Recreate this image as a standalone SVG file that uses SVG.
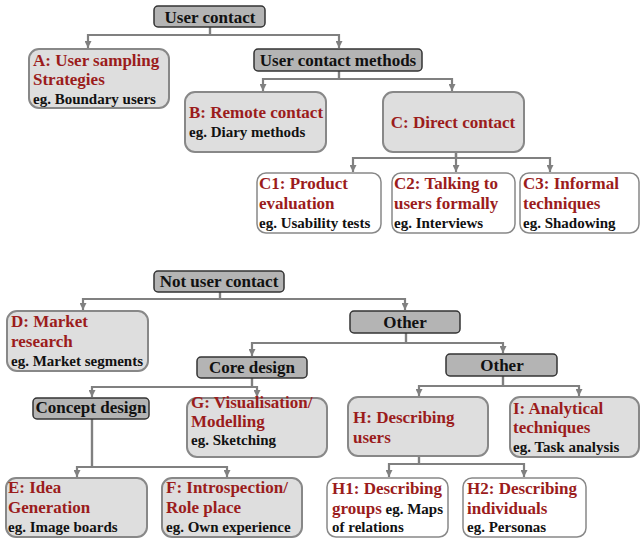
<svg xmlns="http://www.w3.org/2000/svg" width="641" height="540" viewBox="0 0 641 540">
<defs>
<marker id="ah" markerWidth="8" markerHeight="7" refX="7" refY="3.5" orient="auto" markerUnits="userSpaceOnUse">
<path d="M0,0 L7,3.5 L0,7 Z" fill="#808080"/>
</marker>
<style>
.cat rect{fill:#b4b4b4;stroke:#333;stroke-width:1.5}
.cat text{font-family:"Liberation Serif","Times New Roman","DejaVu Serif",serif;font-weight:bold;font-size:17px;fill:#111;text-anchor:middle}
.box rect{fill:#dedede;stroke:#888;stroke-width:2}
.wbox rect{fill:#fff;stroke:#888;stroke-width:1.5}
.t{font-family:"Liberation Serif","Times New Roman","DejaVu Serif",serif;font-weight:bold;font-size:17px;fill:#9b1c1c}
.e{font-family:"Liberation Serif","Times New Roman","DejaVu Serif",serif;font-weight:bold;font-size:15px;fill:#111}
#connectors path{fill:none;stroke:#808080;stroke-width:2.2;marker-end:url(#ah)}
</style>
</defs>
<rect width="641" height="540" fill="#fff"/>
<g id="connectors">
<path d="M210,27 V35 H88 V48"/>
<path d="M210,27 V35 H339 V48"/>
<path d="M339,71 V79 H263 V91"/>
<path d="M339,71 V79 H452 V91"/>
<path d="M456,152 V158 H353 V172"/>
<path d="M456,152 V172"/>
<path d="M456,152 V158 H550 V172"/>
<path d="M220,292 V299 H83 V310"/>
<path d="M220,292 V299 H405 V310"/>
<path d="M406,333 V343 H252 V356"/>
<path d="M406,333 V343 H503 V353"/>
<path d="M252,378 V387 H92 V397"/>
<path d="M252,378 V387 H257 V397"/>
<path d="M92,419 V467 H77 V477"/>
<path d="M92,419 V467 H227 V477"/>
<path d="M503,376 V386 H419 V396"/>
<path d="M503,376 V386 H579 V396"/>
<path d="M419,456 V464 H389 V477"/>
<path d="M419,456 V464 H524 V477"/>
</g>
<g id="user-contact" class="cat"><rect x="154" y="6" width="111" height="21" rx="4"/><text x="210" y="23">User contact</text></g>
<g id="user-contact-methods" class="cat"><rect x="254" y="49" width="168" height="22" rx="4"/><text x="338" y="66">User contact methods</text></g>
<g id="node-a" class="box"><rect x="29" y="49" width="140" height="59" rx="10"/>
<text class="t" x="33" y="66">A: User sampling</text><text class="t" x="33" y="85">Strategies</text><text class="e" x="33" y="104">eg. Boundary users</text></g>
<g id="node-b" class="box"><rect x="185" y="92" width="141" height="60" rx="10"/>
<text class="t" x="189" y="118">B: Remote contact</text><text class="e" x="189" y="137">eg. Diary methods</text></g>
<g id="node-c" class="box"><rect x="383" y="92" width="141" height="60" rx="10"/>
<text class="t" x="453" y="128" text-anchor="middle">C: Direct contact</text></g>
<g id="node-c1" class="wbox"><rect x="257" y="173" width="124" height="60" rx="9"/>
<text class="t" x="259" y="189">C1: Product</text><text class="t" x="259" y="209">evaluation</text><text class="e" x="259" y="228">eg. Usability tests</text></g>
<g id="node-c2" class="wbox"><rect x="392" y="173" width="123" height="60" rx="9"/>
<text class="t" x="394" y="189">C2: Talking to</text><text class="t" x="394" y="209">users formally</text><text class="e" x="394" y="228">eg. Interviews</text></g>
<g id="node-c3" class="wbox"><rect x="520" y="173" width="119" height="60" rx="9"/>
<text class="t" x="523" y="189">C3: Informal</text><text class="t" x="523" y="209">techniques</text><text class="e" x="523" y="228">eg. Shadowing</text></g>
<g id="not-user-contact" class="cat"><rect x="154" y="271" width="130" height="21" rx="4"/><text x="219" y="287">Not user contact</text></g>
<g id="node-d" class="box"><rect x="7" y="311" width="141" height="60" rx="10"/>
<text class="t" x="11" y="327">D: Market</text><text class="t" x="11" y="347">research</text><text class="e" x="11" y="366">eg. Market segments</text></g>
<g id="other-1" class="cat"><rect x="350" y="311" width="110" height="22" rx="4"/><text x="405" y="328">Other</text></g>
<g id="core-design" class="cat"><rect x="197" y="357" width="110" height="21" rx="4"/><text x="252" y="373">Core design</text></g>
<g id="other-2" class="cat"><rect x="446" y="354" width="111" height="22" rx="4"/><text x="502" y="371">Other</text></g>
<g id="concept-design" class="cat"><rect x="33" y="398" width="116" height="21" rx="4"/><text x="91" y="413">Concept design</text></g>
<g id="node-g" class="box"><rect x="187" y="398" width="140" height="59" rx="10"/>
<text class="t" x="191" y="408">G: Visualisation/</text><text class="t" x="191" y="427">Modelling</text><text class="e" x="191" y="445">eg. Sketching</text></g>
<g id="node-e" class="box"><rect x="6" y="478" width="141" height="59" rx="10"/>
<text class="t" x="8" y="493">E: Idea</text><text class="t" x="8" y="513">Generation</text><text class="e" x="8" y="532">eg. Image boards</text></g>
<g id="node-f" class="box"><rect x="162" y="478" width="140" height="59" rx="10"/>
<text class="t" x="166" y="493">F: Introspection/</text><text class="t" x="166" y="513">Role place</text><text class="e" x="166" y="532">eg. Own experience</text></g>
<g id="node-h" class="box"><rect x="348" y="397" width="140" height="59" rx="10"/>
<text class="t" x="353" y="423">H: Describing</text><text class="t" x="353" y="443">users</text></g>
<g id="node-i" class="box"><rect x="510" y="397" width="129" height="60" rx="10"/>
<text class="t" x="513" y="414">I: Analytical</text><text class="t" x="513" y="433">techniques</text><text class="e" x="513" y="452">eg. Task analysis</text></g>
<g id="node-h1" class="wbox"><rect x="327" y="478" width="121" height="59" rx="9"/>
<text class="t" x="332" y="494">H1: Describing</text><text x="332" y="514"><tspan class="t">groups</tspan><tspan class="e"> eg. Maps</tspan></text><text class="e" x="332" y="532">of relations</text></g>
<g id="node-h2" class="wbox"><rect x="463" y="478" width="123" height="59" rx="9"/>
<text class="t" x="467" y="494">H2: Describing</text><text class="t" x="467" y="514">individuals</text><text class="e" x="467" y="532">eg. Personas</text></g>
</svg>
